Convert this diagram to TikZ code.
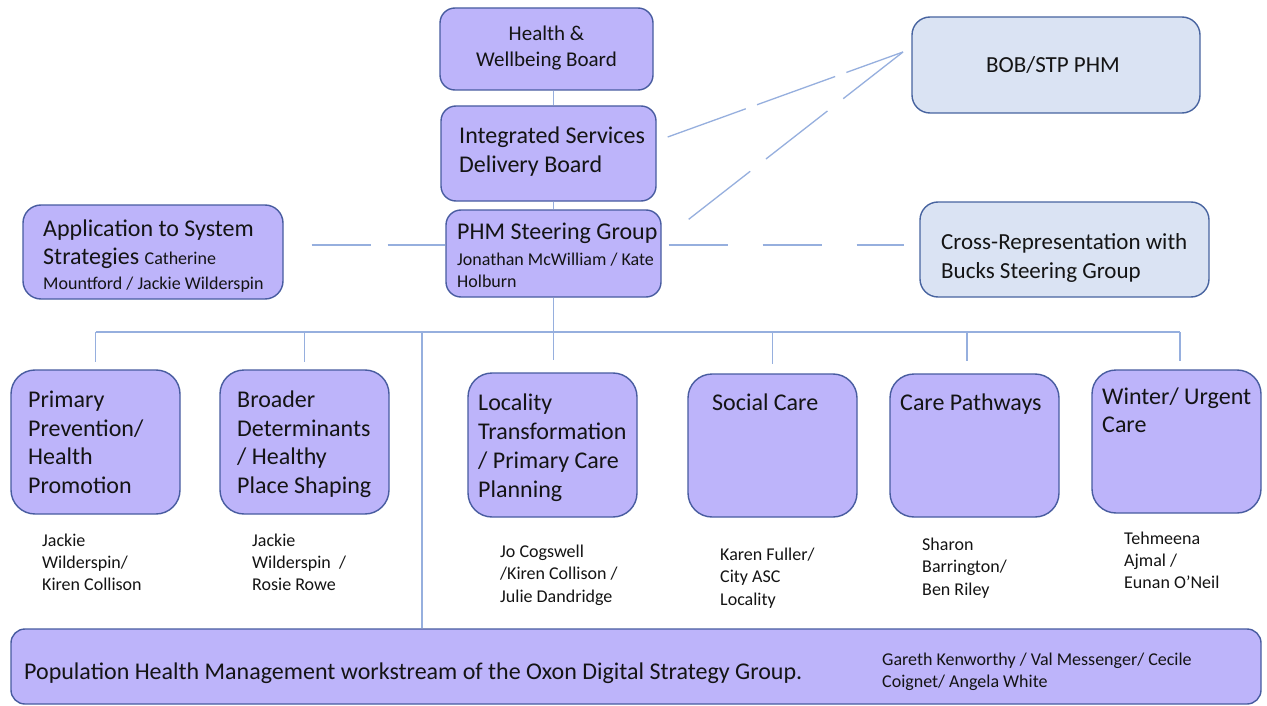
\documentclass[tikz,border=0pt]{standalone}
\usepackage{fontspec}
\setmainfont{Carlito}
\usetikzlibrary{calc}
\definecolor{boxfill}{RGB}{189,180,250}
\definecolor{boxborder}{RGB}{72,92,160}
\definecolor{lfill}{RGB}{218,227,243}
\definecolor{lborder}{RGB}{72,100,160}
\definecolor{linec}{RGB}{150,175,222}
\definecolor{txtc}{RGB}{20,20,20}
\begin{document}
\begin{tikzpicture}[x=1pt,y=-1pt,
  box/.style={draw=boxborder, fill=boxfill, line width=1.4pt, rounded corners=15pt, inner sep=0pt},
  bigbox/.style={box, rounded corners=24pt},
  lbox/.style={draw=lborder, fill=lfill, line width=1.4pt, rounded corners=18pt, inner sep=0pt},
  conn/.style={draw=linec, line width=1.3pt},
  tl/.style={inner sep=0pt, anchor=base west, text=txtc, font=\fontsize{24}{28}\selectfont},
  tm/.style={inner sep=0pt, anchor=base, text=txtc},
  nm/.style={inner sep=0pt, anchor=base west, text=txtc, font=\fontsize{18}{22}\selectfont}]
\useasboundingbox (0,0) rectangle (1267,706);
\fill[white] (0,0) rectangle (1267,706);

% ---------- connectors (drawn first) ----------
\coordinate (bobpt) at (903,52);
\coordinate (tap) at (422,332);

% boxes
\node[box, minimum width=213pt, minimum height=82pt] (hwb) at (546.5,49) {};
\node[box, minimum width=215pt, minimum height=95pt] (isdb) at (548.5,153.5) {};
\node[box, minimum width=215pt, minimum height=87pt] (phm) at (553.5,253.5) {};
\node[lbox, minimum width=288pt, minimum height=96pt] (bob) at (1056,65) {};
\node[box, rounded corners=18pt, minimum width=260pt, minimum height=94pt] (app) at (153,252) {};
\node[lbox, minimum width=289pt, minimum height=95pt] (cross) at (1064.5,249.5) {};
\node[bigbox, minimum width=169pt, minimum height=144pt] (pp) at (95.5,442) {};
\node[bigbox, minimum width=169pt, minimum height=144pt] (bd) at (304.5,442) {};
\node[bigbox, minimum width=169pt, minimum height=144pt] (lt) at (552.5,445) {};
\node[bigbox, minimum width=169pt, minimum height=143pt] (sc) at (772.5,445.5) {};
\node[bigbox, minimum width=169pt, minimum height=143pt] (cp) at (974.5,445.5) {};
\node[bigbox, minimum width=169pt, minimum height=143pt] (wu) at (1176.5,441.5) {};
\node[box, rounded corners=14pt, minimum width=1250pt, minimum height=75pt] (bot) at (636,666.5) {};

% solid connectors
\draw[conn] (hwb.south -| phm) -- (isdb.north -| phm);
\draw[conn] (isdb.south -| phm) -- (phm.north);
\draw[conn] (phm.south) -- ($(phm.south |- lt.north)+(0,-12)$);
\draw[conn] (pp.north |- tap) -- (1180,332);
\draw[conn] (pp.north |- tap) -- ($(pp.north)+(0,-7)$);
\draw[conn] (bd.north |- tap) -- ($(bd.north)+(0,-7)$);
\draw[conn] (tap) -- (tap |- bot.north);
\draw[conn] (sc.north |- tap) -- ($(sc.north)+(0,-9)$);
\draw[conn] ($(cp.north |- tap)+(-7.5,0)$) -- ($(cp.north)+(-7.5,-12)$);
\draw[conn] (1180,332) -- ($(wu.north)+(3.5,-8)$);

% dashed connectors
\draw[conn, dash pattern=on 59pt off 17pt] ($(app.east)+(28,-7)$) -- ($(phm.west)+(0,-8.5)$);
\draw[conn, dash pattern=on 59pt off 35pt] ($(phm.east)+(7,-8.5)$) -- ($(cross.west)+(-15,-4.5)$);
\draw[conn, dash pattern=on 83pt off 12pt] ($(isdb.east)+(11,-16.5)$) -- (bobpt);
\draw[conn, dash pattern=on 78pt off 20pt] ($(phm.north east)+(27,10)$) -- (bobpt);

% ---------- texts ----------
\node[tm, font=\fontsize{21}{26}\selectfont] (hwb1) at (546.5,41) {Health \&};
\node[tm, font=\fontsize{21}{26}\selectfont] (hwb2) at (546.5,67) {Wellbeing Board};

\node[tl] (isdb1) at (459,144) {Integrated Services};
\node[tl] (isdb2) at (459,172.5) {Delivery Board};

\node[tl] (phm1) at (457,240) {PHM Steering Group};
\node[nm] (phm2) at (457,265) {Jonathan McWilliam / Kate};
\node[nm] (phm3) at (457,287) {Holburn};

\node[tl] (app1) at (43,236) {Application to System};
\node[tl] (app2) at (43,264) {Strategies {\fontsize{18}{22}\selectfont Catherine}};
\node[nm] (app3) at (43,289) {Mountford / Jackie Wilderspin};

\node[tm, font=\fontsize{23}{28}\selectfont] (bob1) at (1053,73) {BOB/STP PHM};

\node[tl, font=\fontsize{23}{29}\selectfont] (cr1) at (941,249) {Cross-Representation with};
\node[tl, font=\fontsize{23}{29}\selectfont] (cr2) at (941,278) {Bucks Steering Group};

\node[tl] (pp1) at (28,407) {Primary};
\node[tl] (pp2) at (28,436) {Prevention/};
\node[tl] (pp3) at (28,464) {Health};
\node[tl] (pp4) at (28,493) {Promotion};

\node[tl] (bd1) at (237,407) {Broader};
\node[tl] (bd2) at (237,436) {Determinants};
\node[tl] (bd3) at (237,464) {/ Healthy};
\node[tl] (bd4) at (237,493) {Place Shaping};

\node[tl] (lt1) at (478,410) {Locality};
\node[tl] (lt2) at (478,439) {Transformation};
\node[tl] (lt3) at (478,468) {/ Primary Care};
\node[tl] (lt4) at (478,497) {Planning};

\node[tl] (sc1) at (712,410) {Social Care};
\node[tl] (cp1) at (900,410) {Care Pathways};
\node[tl] (wu1) at (1102,404) {Winter/ Urgent};
\node[tl] (wu2) at (1102,432) {Care};

\node[nm] (ppn1) at (42,546) {Jackie};
\node[nm] (ppn2) at (42,568) {Wilderspin/};
\node[nm] (ppn3) at (42,590) {Kiren Collison};

\node[nm] (bdn1) at (252,546) {Jackie};
\node[nm] (bdn2) at (252,568) {Wilderspin\ \ /};
\node[nm] (bdn3) at (252,590) {Rosie Rowe};

\node[nm] (ltn1) at (500,557) {Jo Cogswell};
\node[nm] (ltn2) at (500,579) {/Kiren Collison /};
\node[nm] (ltn3) at (500,602) {Julie Dandridge};

\node[nm] (scn1) at (720,560) {Karen Fuller/};
\node[nm] (scn2) at (720,582) {City ASC};
\node[nm] (scn3) at (720,605) {Locality};

\node[nm] (cpn1) at (922,550) {Sharon};
\node[nm] (cpn2) at (922,572) {Barrington/};
\node[nm] (cpn3) at (922,595) {Ben Riley};

\node[nm] (wun1) at (1124,544) {Tehmeena};
\node[nm] (wun2) at (1124,566) {Ajmal /};
\node[nm] (wun3) at (1124,588) {Eunan O’Neil};

\node[tl] (bot1) at (24,679) {Population Health Management workstream of the Oxon Digital Strategy Group.};
\node[nm] (botn1) at (882,665) {Gareth Kenworthy / Val Messenger/ Cecile};
\node[nm] (botn2) at (882,687) {Coignet/ Angela White};
\end{tikzpicture}
\end{document}
